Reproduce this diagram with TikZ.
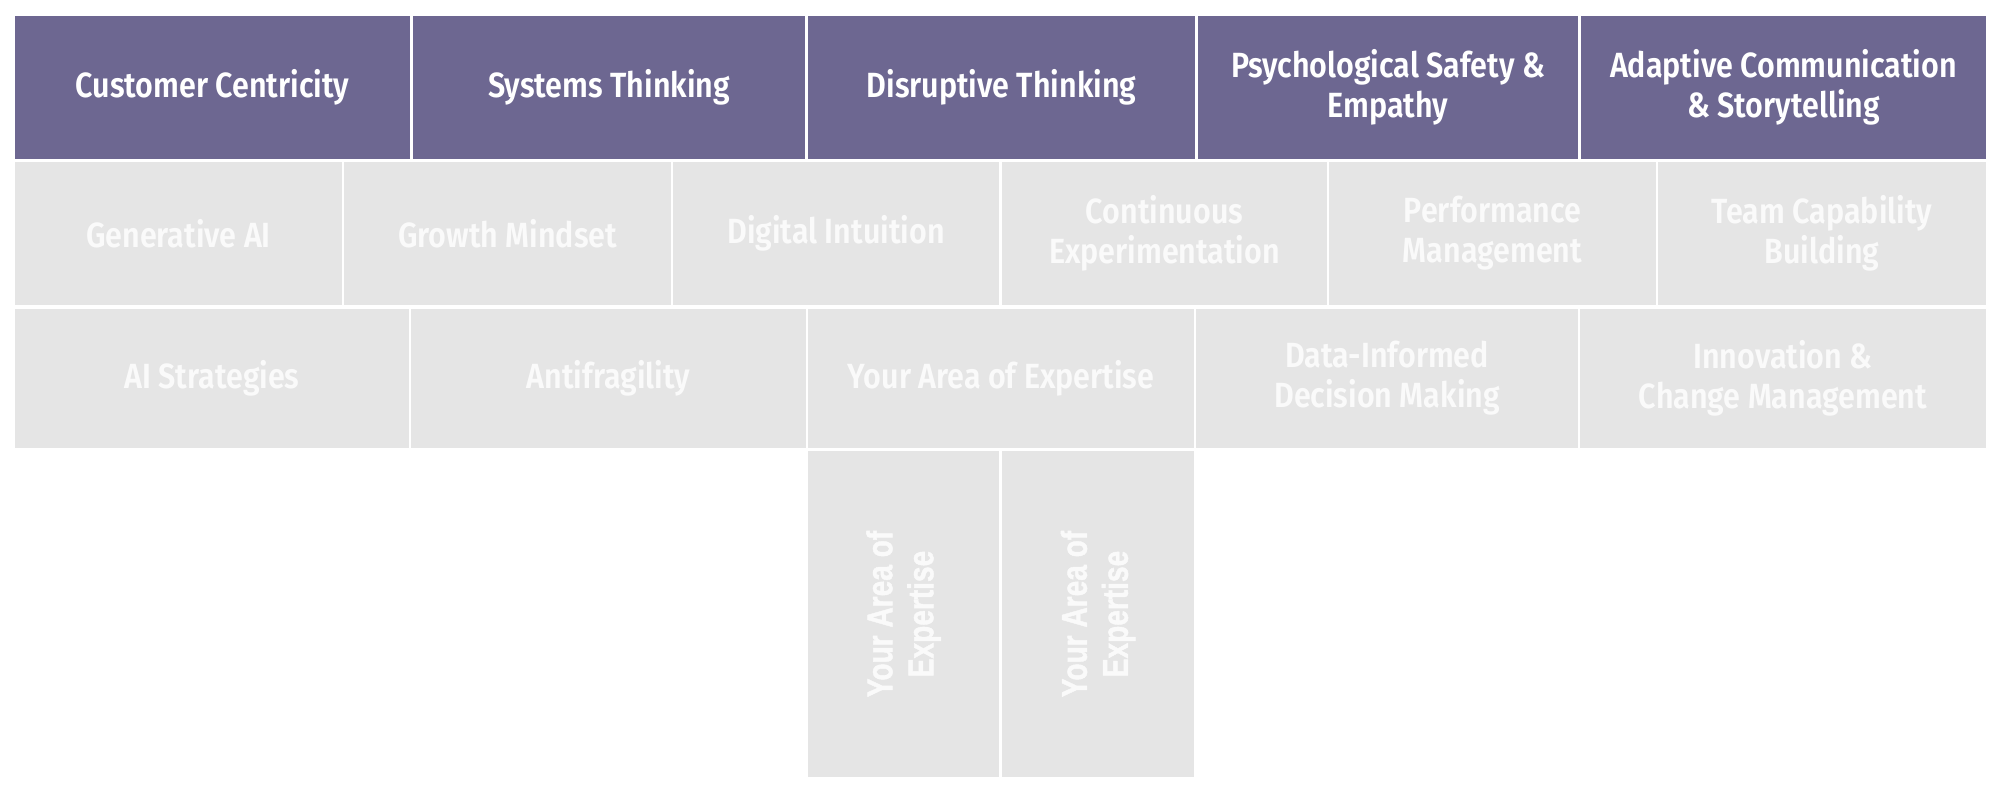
\documentclass[tikz,border=0pt]{standalone}
\usepackage{fontspec}
\setmainfont{Fira Sans}[UprightFont=* SemiBold, FakeStretch=0.87]
\newfontfamily\vfont{Liberation Sans}[UprightFont=* Bold, FakeStretch=0.78, FakeBold=1.2]
\definecolor{purp}{RGB}{109,103,145}
\definecolor{cellgray}{RGB}{229,229,229}
\definecolor{faint}{RGB}{250,250,250}
\begin{document}
\begin{tikzpicture}[x=1pt,y=-1pt,
  box/.style={inner sep=0pt, outer sep=0pt, align=center, font=\fontsize{35}{40}\selectfont},
  top/.style={box, fill=purp, text=white, minimum height=143},
  mid/.style={box, fill=cellgray, text=faint, minimum height=143},
  low/.style={box, fill=cellgray, text=faint, minimum height=139},
  tall/.style={box, fill=cellgray, minimum height=326},
  vtext/.style={inner sep=0pt, align=center, text=faint, rotate=90, font=\vfont\fontsize{36}{41}\selectfont}]
\useasboundingbox (0,0) rectangle (2000,795);
% row 1
\node[top, minimum width=395] (c11) at (212.5,87.5) {Customer Centricity};
\node[top, minimum width=392] (c12) at (609,87.5) {Systems Thinking};
\node[top, minimum width=387] (c13) at (1001.5,87.5) {Disruptive Thinking};
\node[top, minimum width=380] (c14) at (1388,87.5) {Psychological Safety \&\\Empathy};
\node[top, minimum width=405] (c15) at (1783.5,87.5) {Adaptive Communication\\\& Storytelling};
% row 2
\node[mid, minimum width=327] (c21) at (178.5,233.5) {Generative AI};
\node[mid, minimum width=327] (c22) at (507.5,233.5) {Growth Mindset};
\node[mid, minimum width=326] (c23) at (836,233.5) {Digital Intuition};
\node[mid, minimum width=325] (c24) at (1164.5,233.5) {Continuous\\Experimentation};
\node[mid, minimum width=327] (c25) at (1492.5,233.5) {Performance\\Management};
\node[mid, minimum width=328] (c26) at (1822,233.5) {Team Capability\\Building};
% row 3
\node[low, minimum width=394] (c31) at (212,378.5) {AI Strategies};
\node[low, minimum width=395] (c32) at (608.5,378.5) {Antifragility};
\node[low, minimum width=386] (c33) at (1001,378.5) {Your Area of Expertise};
\node[low, minimum width=382] (c34) at (1387,378.5) {Data-Informed\\Decision Making};
\node[low, minimum width=406] (c35) at (1783,378.5) {Innovation \&\\Change Management};
% row 4
\node[tall, minimum width=191] (c41) at (903.5,614) {};
\node[tall, minimum width=192] (c42) at (1098,614) {};
\node[vtext] (t41) at (c41) {Your Area of\\Expertise};
\node[vtext] (t42) at (c42) {Your Area of\\Expertise};
\end{tikzpicture}
\end{document}
